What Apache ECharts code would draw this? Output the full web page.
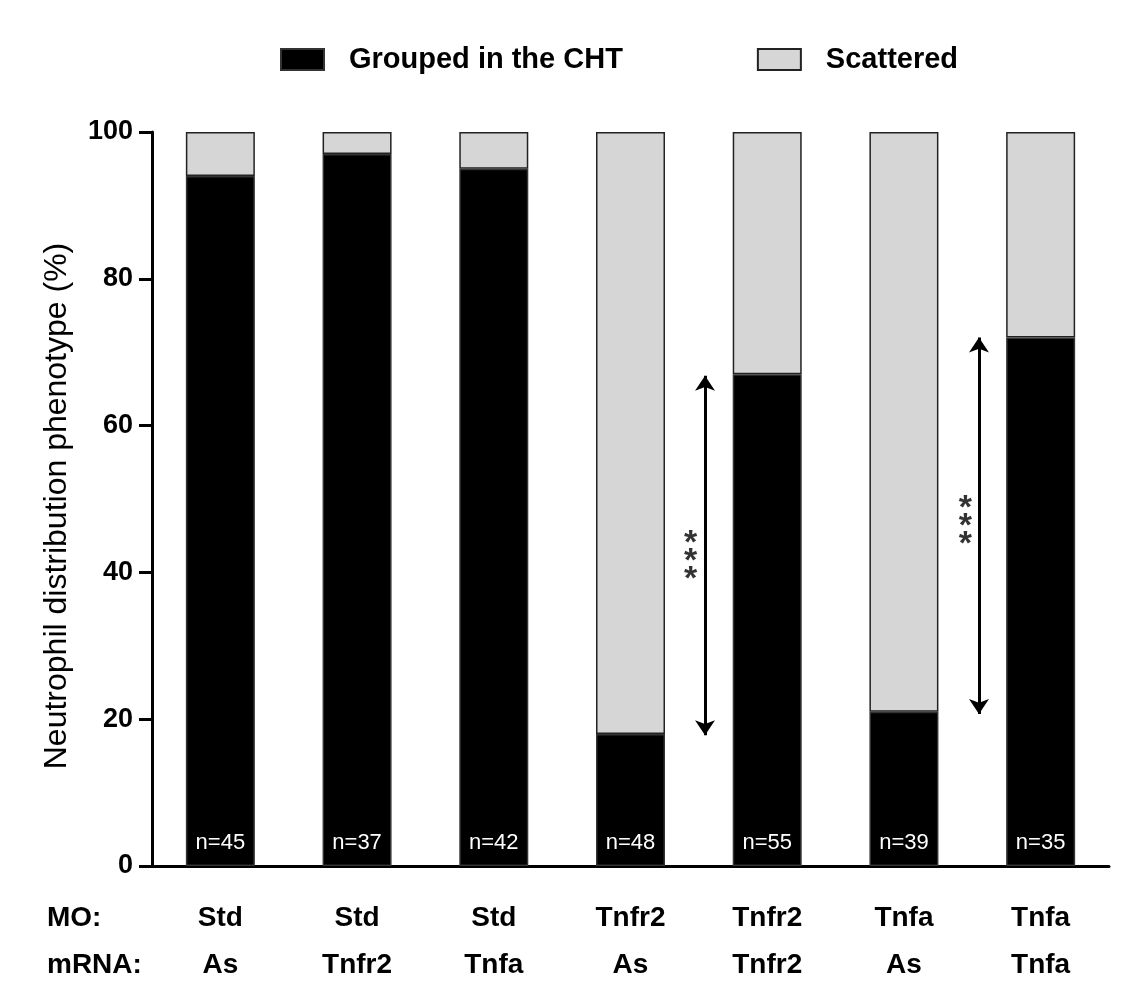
<!DOCTYPE html>
<html><head><meta charset="utf-8">
<script src="https://cdn.jsdelivr.net/npm/echarts@6/dist/echarts.min.js"></script>
<style>html,body{margin:0;padding:0;background:#fff}#c{width:1132px;height:983px}</style>
</head><body><div id="c"></div>
<script>
const moLabels = ['Std','Std','Std','Tnfr2','Tnfr2','Tnfa','Tnfa'];
const mrnaLabels = ['As','Tnfr2','Tnfa','As','Tnfr2','As','Tnfa'];
const grouped = [94, 97, 95, 18, 67, 21, 72];
const scattered = [6, 3, 5, 82, 33, 79, 28];
const nCounts = [45, 37, 42, 48, 55, 39, 35];
const yTicks = [0, 20, 40, 60, 80, 100];
// significance arrows: [x position (category units), from value, to value]
const arrows = [[4.045, 17.8, 66.8], [6.049, 20.7, 72]];
const starMarks = [[3.94, 41.5], [5.95, 46.2]];

const FONT = 'Liberation Sans, Arial, sans-serif';
const chart = echarts.init(document.getElementById('c'));
const cats = moLabels.map((m, i) => m + '\n' + mrnaLabels[i]);

chart.setOption({
  backgroundColor: '#fff',
  animation: false,
  grid: { left: 152, right: 23, top: 132, bottom: 117, containLabel: false, outerBoundsMode: 'none' },
  legend: {
    left: 280, top: 45, padding: 0,
    icon: 'rect',
    itemWidth: 43, itemHeight: 21, itemGap: 134,
    data: ['Grouped in the CHT', 'Scattered'],
    textStyle: { fontFamily: FONT, fontSize: 29, fontWeight: 'bold', color: '#000', padding: [0, 0, 0, 20] }
  },
  xAxis: [{
    type: 'category', data: cats,
    axisLine: { lineStyle: { color: '#000', width: 3 } },
    axisTick: { show: false },
    axisLabel: { margin: 29, fontFamily: FONT, fontSize: 28, fontWeight: 'bold', color: '#000', lineHeight: 47 }
  }, {
    type: 'value', min: 0, max: 7, show: false
  }],
  yAxis: {
    type: 'value', min: 0, max: 100, interval: 20,
    name: 'Neutrophil distribution phenotype (%)',
    nameLocation: 'middle', nameGap: 79,
    nameTextStyle: { fontFamily: FONT, fontSize: 32, color: '#000', padding: [0, 14, 0, 0] },
    axisLine: { show: true, lineStyle: { color: '#000', width: 3 } },
    axisTick: { show: true, length: 13, lineStyle: { color: '#000', width: 3 } },
    axisLabel: { margin: 19, fontFamily: FONT, fontSize: 27, fontWeight: 'bold', color: '#000',
      formatter: v => yTicks.includes(v) ? String(v) : '' },
    splitLine: { show: false }
  },
  series: [{
    name: 'Grouped in the CHT', type: 'bar', stack: 'a', barWidth: 69,
    data: grouped,
    itemStyle: { color: '#000', borderColor: '#333', borderWidth: 1.5 },
    label: { show: true, position: 'insideBottom', distance: 12, color: '#fff',
      fontFamily: FONT, fontSize: 22, formatter: p => 'n=' + nCounts[p.dataIndex] }
  }, {
    name: 'Scattered', type: 'bar', stack: 'a', barWidth: 69,
    data: scattered,
    itemStyle: { color: '#d6d6d6', borderColor: '#222', borderWidth: 1.5 }
  }, {
    name: 'ann', type: 'scatter', xAxisIndex: 1, yAxisIndex: 0,
    data: starMarks, symbolSize: 1, itemStyle: { color: 'rgba(0,0,0,0)' },
    label: { show: true, position: 'inside', formatter: '*\n*\n*', color: '#000',
      fontFamily: FONT, fontSize: 34, fontWeight: 'bold', lineHeight: 18 },
    silent: true,
    markLine: {
      silent: true, symbol: ['arrow', 'arrow'], symbolSize: 15,
      label: { show: false },
      lineStyle: { color: '#000', width: 3, type: 'solid' },
      data: arrows.map(a => [{ coord: [a[0], a[1]] }, { coord: [a[0], a[2]] }])
    }
  }]
});

chart.setOption({
  graphic: [
    { type: 'text', left: 47, top: 904, style: { text: 'MO:', font: 'bold 28px ' + FONT, fill: '#000' } },
    { type: 'text', left: 47, top: 951, style: { text: 'mRNA:', font: 'bold 28px ' + FONT, fill: '#000' } }
  ]
});
</script></body></html>
